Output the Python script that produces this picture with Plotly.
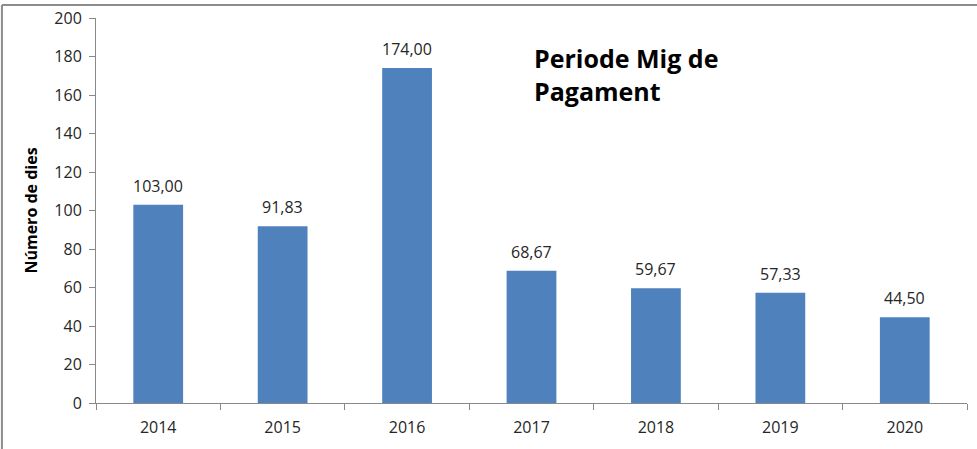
import plotly.graph_objects as go

years = ["2014", "2015", "2016", "2017", "2018", "2019", "2020"]
dies = [103.00, 91.83, 174.00, 68.67, 59.67, 57.33, 44.50]
y_ticks = [0, 20, 40, 60, 80, 100, 120, 140, 160, 180, 200]

FONT = "Open Sans"
AXIS_GRAY = "#898989"
TEXT = "#262626"

fig = go.Figure()
fig.add_trace(go.Bar(
    x=years,
    y=dies,
    marker=dict(color="#4f81bd", line=dict(width=0)),
    hovertemplate="%{x}: %{y:.2f}<extra></extra>",
))

# data labels above the bars (category index as x position)
for i, v in enumerate(dies):
    fig.add_annotation(
        x=i, y=v, text=f"{v:.2f}".replace(".", ","),
        showarrow=False, yanchor="bottom", yshift=6,
        font=dict(family=FONT, size=16, color=TEXT),
    )

fig.add_annotation(
    xref="paper", yref="paper", x=0.5, y=0.945,
    xanchor="left", yanchor="top", align="left",
    text="<b>Periode Mig de<br>Pagament</b>", showarrow=False,
    font=dict(family=FONT, size=25, color="#000000"),
)

# frame lines (top and left edge of the picture)
fig.add_shape(type="line", xref="paper", yref="paper",
              x0=-0.108, x1=1.02, y0=1.034, y1=1.034,
              line=dict(color="#8c8c8c", width=2))
fig.add_shape(type="line", xref="paper", yref="paper",
              x0=-0.108, x1=-0.108, y0=1.034, y1=-0.13,
              line=dict(color="#8c8c8c", width=2))

fig.update_layout(
    width=977, height=449,
    margin=dict(l=96, r=10, t=18, b=46),
    paper_bgcolor="white", plot_bgcolor="white",
    bargap=0.6, showlegend=False,
    separators=",.",
    font=dict(family=FONT, color=TEXT),
)
fig.update_xaxes(
    type="category", range=[-0.5, 6.5], showline=True,
    linecolor=AXIS_GRAY, linewidth=1,
    ticks="outside", tickson="boundaries", ticklen=6, tickcolor=AXIS_GRAY,
    tickfont=dict(family=FONT, size=16, color=TEXT), ticklabelstandoff=10,
    showgrid=False, automargin=False,
)
fig.update_yaxes(
    range=[0, 200], tickvals=y_ticks, showline=True, linecolor=AXIS_GRAY,
    linewidth=1, ticks="outside", ticklen=6, tickcolor=AXIS_GRAY,
    tickfont=dict(family=FONT, size=16, color=TEXT), ticklabelstandoff=4,
    showgrid=False, zeroline=False, automargin=False,
    title=dict(text="<b>Número de dies</b>", standoff=12,
               font=dict(family=FONT, size=16, color="#000000")),
)

# page has a default body margin; remove it so the figure sits at the corner
fig.write_html("out.html", config={"displayModeBar": False},
               post_script="document.body.style.margin='0';")
